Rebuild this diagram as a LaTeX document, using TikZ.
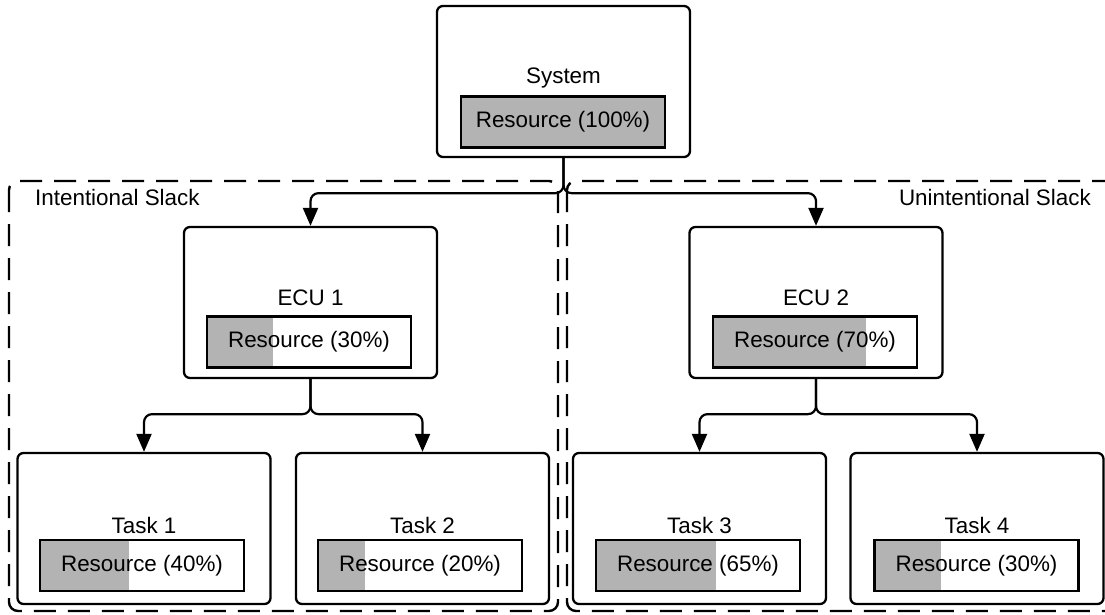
\documentclass[tikz,border=0pt]{standalone}
\usepackage{fontspec}
\setmainfont{Liberation Sans}
\usetikzlibrary{arrows.meta}
\definecolor{barfill}{RGB}{179,179,179}
\begin{document}
\begin{tikzpicture}[x=1pt,y=-1pt,
  font=\fontsize{22.4}{27}\selectfont,
  unit/.style={draw,line width=2.3pt,rounded corners=6pt,minimum width=253pt,minimum height=151pt,inner sep=0pt},
  bar/.style={draw,line width=2.3pt,minimum width=204pt,minimum height=51pt,inner sep=0pt},
  fillto/.style={path picture={\fill[barfill] (path picture bounding box.south west) rectangle ([xshift=#1]path picture bounding box.north west);}},
  conn/.style={line width=2.2pt,rounded corners=8pt,-{Triangle[length=18pt,width=15pt]}},
  region/.style={line width=2.4pt,dash pattern=on 22pt off 12pt,rounded corners=9pt},
  ttl/.style={inner sep=0pt}]
\useasboundingbox (0,0) rectangle (1105,615);
\clip (0,0) rectangle (1105,615);
% regions
\draw[region] (9,181) rectangle (558,611);
\draw[region] (567,181) rectangle (1135,611);
\node[ttl,anchor=west] (lblI) at (35,197) {Intentional Slack};
\node[ttl,anchor=east] (lblU) at (1091,197) {Unintentional Slack};
% system
\node[unit] (sys) at (563.5,81.5) {};
\node[ttl] (sysT) at (563.5,78) {System};
\node[bar,fill=barfill] (sysR) at (563,122) {Resource (100\%)};
% ECUs
\node[unit] (ecu1) at (310.5,302.5) {};
\node[ttl] (ecu1T) at (310.5,298) {ECU 1};
\node[bar,fillto=66pt] (ecu1R) at (309,342) {Resource (30\%)};
\node[unit] (ecu2) at (816,302.5) {};
\node[ttl] (ecu2T) at (816,298) {ECU 2};
\node[bar,fillto=153pt] (ecu2R) at (815,342) {Resource (70\%)};
% Tasks
\node[unit] (t1) at (144,528.5) {};
\node[ttl] (t1T) at (144,525) {Task 1};
\node[bar,fillto=89pt] (t1R) at (142,565.5) {Resource (40\%)};
\node[unit] (t2) at (422.5,528.5) {};
\node[ttl] (t2T) at (422.5,525) {Task 2};
\node[bar,fillto=47pt] (t2R) at (420,565.5) {Resource (20\%)};
\node[unit] (t3) at (699.5,528.5) {};
\node[ttl] (t3T) at (699.5,525) {Task 3};
\node[bar,fillto=120pt] (t3R) at (698,565.5) {Resource (65\%)};
\node[unit] (t4) at (977,528.5) {};
\node[ttl] (t4T) at (977,525) {Task 4};
\node[bar,fillto=66pt] (t4R) at (976.5,565.5) {Resource (30\%)};
% connectors
\draw[conn] (sys.south) -- ++(0,35) -| (ecu1.north);
\draw[conn] (sys.south) -- ++(0,35) -| (ecu2.north);
\draw[conn] (ecu1.south) -- ++(0,35) -| (t1.north);
\draw[conn] (ecu1.south) -- ++(0,35) -| (t2.north);
\draw[conn] (ecu2.south) -- ++(0,35) -| (t3.north);
\draw[conn] (ecu2.south) -- ++(0,35) -| (t4.north);
\end{tikzpicture}
\end{document}
